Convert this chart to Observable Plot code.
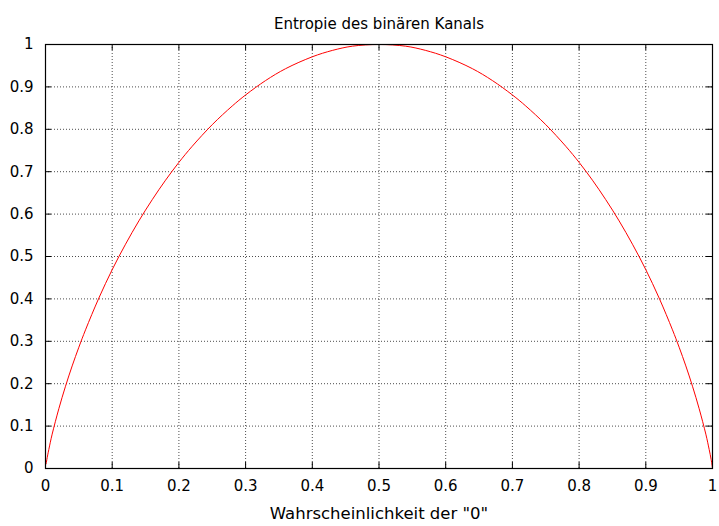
<!DOCTYPE html>
<html>
<head>
<meta charset="utf-8">
<script src="https://cdn.jsdelivr.net/npm/d3@7"></script>
<script src="https://cdn.jsdelivr.net/npm/@observablehq/plot@0.6"></script>
<style>
  html, body { margin: 0; padding: 0; background: #fff; }
  #chart svg { display: block; }
</style>
</head>
<body>
<div id="chart"></div>
<script>
// Values
const titleText = "Entropie des binären Kanals";
const xLabel = "Wahrscheinlichkeit der \"0\"";
const pValues = [0.001, 0.002, 0.005, 0.01, 0.02, 0.03, 0.04, 0.05, 0.06, 0.08, 0.10, 0.12, 0.14, 0.16, 0.18, 0.20, 0.22, 0.25, 0.28, 0.30, 0.33, 0.36, 0.40, 0.43, 0.46, 0.50,
                 0.54, 0.57, 0.60, 0.64, 0.67, 0.70, 0.72, 0.75, 0.78, 0.80, 0.82, 0.84, 0.86, 0.88, 0.90, 0.92, 0.94, 0.95, 0.96, 0.97, 0.98, 0.99, 0.995, 0.998, 1.0];
const hValues = [0.011, 0.021, 0.045, 0.081, 0.141, 0.194, 0.242, 0.286, 0.327, 0.402, 0.469, 0.529, 0.584, 0.634, 0.680, 0.722, 0.760, 0.811, 0.855, 0.881, 0.915, 0.943, 0.971, 0.986, 0.996, 1.000,
                 0.996, 0.986, 0.971, 0.943, 0.915, 0.881, 0.855, 0.811, 0.760, 0.722, 0.680, 0.634, 0.584, 0.529, 0.469, 0.402, 0.327, 0.286, 0.242, 0.194, 0.141, 0.081, 0.045, 0.021, 0.000];
const xTicks = [0, 0.1, 0.2, 0.3, 0.4, 0.5, 0.6, 0.7, 0.8, 0.9, 1];
const yTicks = [0, 0.1, 0.2, 0.3, 0.4, 0.5, 0.6, 0.7, 0.8, 0.9, 1];

const data = pValues.map((p, i) => ({p, h: hValues[i]}));
const fmt = d => d3.format("")(+d.toFixed(1));

const W = 719, H = 526;
const mL = 45, mR = 7, mT = 44, mB = 58;
const plotH = H - mT - mB, plotW = W - mL - mR;
const tickLen = 6;

const chart = Plot.plot({
  width: W,
  height: H,
  marginLeft: mL,
  marginRight: mR,
  marginTop: mT,
  marginBottom: mB,
  style: {fontFamily: "DejaVu Sans, sans-serif", fontSize: "15px", color: "#000", background: "#fff"},
  x: {domain: [0, 1]},
  y: {domain: [0, 1]},
  marks: [
    Plot.gridX(xTicks.slice(1, -1), {stroke: "#000", strokeOpacity: 0.7, strokeDasharray: "1,2"}),
    Plot.gridY(yTicks.slice(1, -1), {stroke: "#000", strokeOpacity: 0.7, strokeDasharray: "1,2"}),
    // inward ticks (bottom, top, left, right)
    Plot.ruleX(xTicks, {x: d => d, insetTop: plotH - tickLen, stroke: "#000"}),
    Plot.ruleX(xTicks, {x: d => d, insetBottom: plotH - tickLen, stroke: "#000"}),
    Plot.ruleY(yTicks, {y: d => d, insetRight: plotW - tickLen, stroke: "#000"}),
    Plot.ruleY(yTicks, {y: d => d, insetLeft: plotW - tickLen, stroke: "#000"}),
    Plot.axisX(xTicks, {tickSize: 0, tickPadding: 12, tickFormat: fmt, label: null, fontSize: 15}),
    Plot.axisY(yTicks, {tickSize: 0, tickPadding: 12, tickFormat: fmt, label: null, fontSize: 15}),
    Plot.line(data, {x: "p", y: "h", stroke: "#ff0000", strokeWidth: 1, curve: "catmull-rom"}),
    Plot.frame({stroke: "#000", strokeWidth: 1.2}),
    Plot.text([titleText], {frameAnchor: "top", dy: -26, text: d => d, fontSize: 15}),
    Plot.text([xLabel], {frameAnchor: "bottom", dy: 50, text: d => d, fontSize: 16.5})
  ]
});
document.getElementById("chart").appendChild(chart);
</script>
</body>
</html>
